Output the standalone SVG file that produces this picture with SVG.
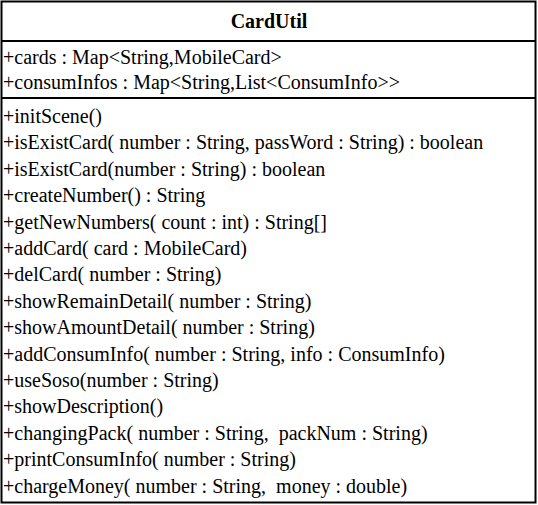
<svg xmlns="http://www.w3.org/2000/svg" width="538" height="505" viewBox="0 0 538 505">
<style>
.t{font-family:"Liberation Serif","Times New Roman",serif;font-size:20px;fill:#000}
.h{font-family:"Liberation Serif","Times New Roman",serif;font-size:20px;font-weight:bold;fill:#000}
.ln{stroke:#000;stroke-width:2;fill:none}
</style>
<rect width="538" height="505" fill="#fff"/>
<g id="CardUtil">
<rect class="ln" x="1.5" y="1.5" width="534" height="501" fill="#fff"/>
<line class="ln" x1="1.5" y1="41" x2="535.5" y2="41"/>
<line class="ln" x1="1.5" y1="98" x2="535.5" y2="98"/>
<text class="h" x="269" y="28" text-anchor="middle">CardUtil</text>
<text class="t" x="3" y="64">+cards : Map&lt;String,MobileCard&gt;</text>
<text class="t" x="3" y="89">+consumInfos : Map&lt;String,List&lt;ConsumInfo&gt;&gt;</text>
<text class="t" x="3" y="123">+initScene()</text>
<text class="t" x="3" y="149.4">+isExistCard( number : String, passWord : String) : boolean</text>
<text class="t" x="3" y="175.8">+isExistCard(number : String) : boolean</text>
<text class="t" x="3" y="202.2">+createNumber() : String</text>
<text class="t" x="3" y="228.6">+getNewNumbers( count : int) : String[]</text>
<text class="t" x="3" y="255">+addCard( card : MobileCard)</text>
<text class="t" x="3" y="281.4">+delCard( number : String)</text>
<text class="t" x="3" y="307.8">+showRemainDetail( number : String)</text>
<text class="t" x="3" y="334.2">+showAmountDetail( number : String)</text>
<text class="t" x="3" y="360.6">+addConsumInfo( number : String, info : ConsumInfo)</text>
<text class="t" x="3" y="387">+useSoso(number : String)</text>
<text class="t" x="3" y="413.4">+showDescription()</text>
<text class="t" x="3" y="439.8" xml:space="preserve">+changingPack( number : String,  packNum : String)</text>
<text class="t" x="3" y="466.2">+printConsumInfo( number : String)</text>
<text class="t" x="3" y="492.6" xml:space="preserve">+chargeMoney( number : String,  money : double)</text>
</g>
</svg>
